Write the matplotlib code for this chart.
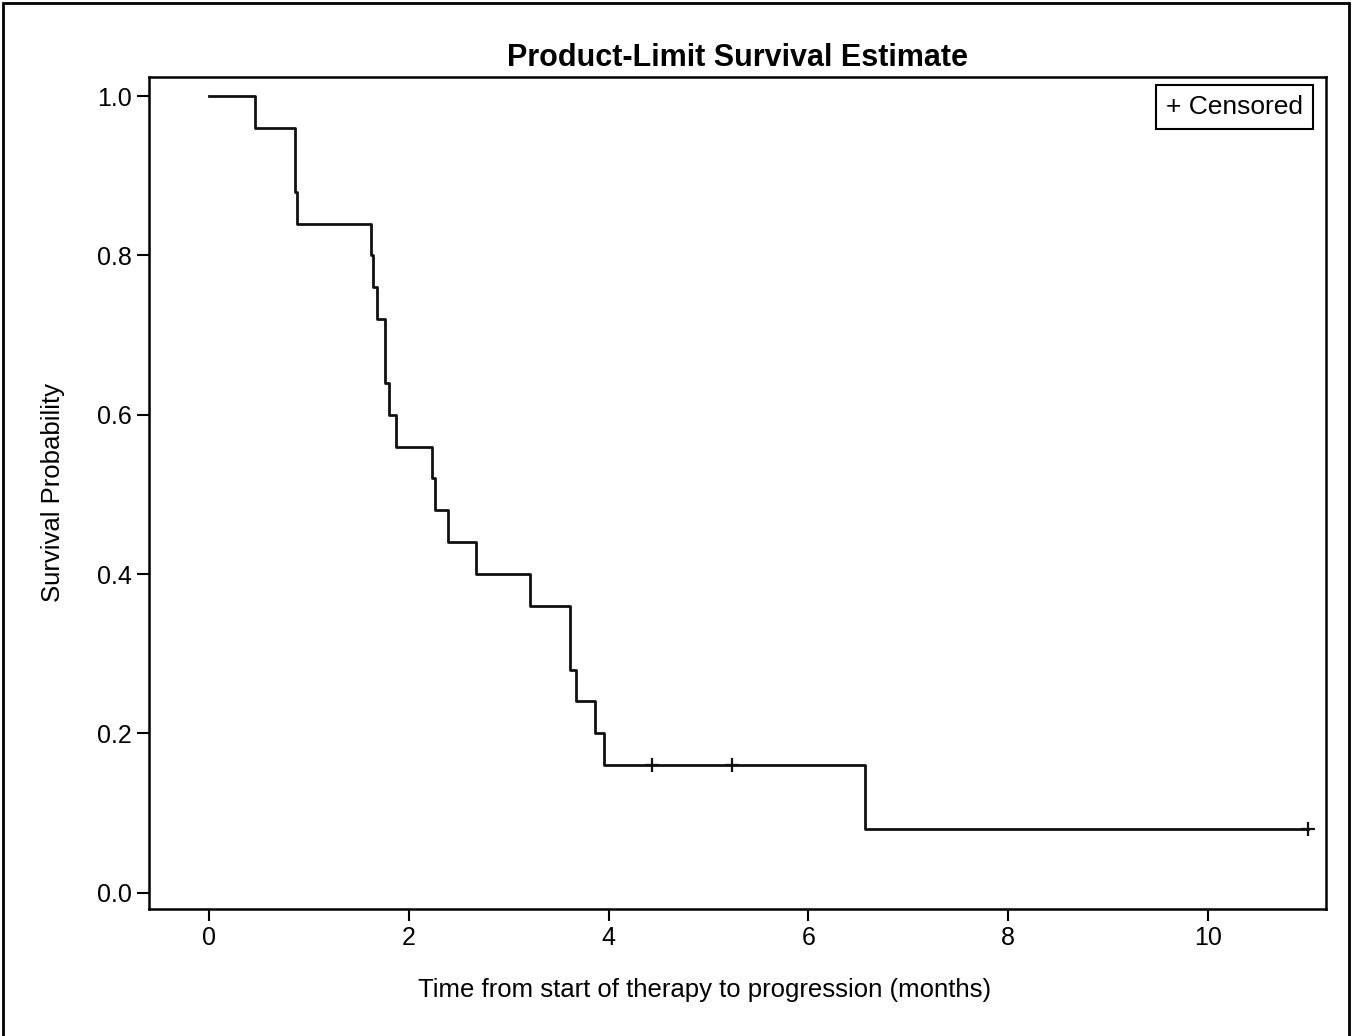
import matplotlib.pyplot as plt
from matplotlib.patches import Rectangle

plt.rcParams['font.family'] = ['Liberation Sans', 'DejaVu Sans']

# Kaplan-Meier steps (months, survival)
step_times = [0, 0.46, 0.86, 0.88, 1.62, 1.64, 1.68, 1.76, 1.80, 1.87,
              2.23, 2.26, 2.39, 2.67, 3.21, 3.61, 3.67, 3.86, 3.95, 6.57]
survival = [1.0, 0.96, 0.88, 0.84, 0.80, 0.76, 0.72, 0.64, 0.60, 0.56,
            0.52, 0.48, 0.44, 0.40, 0.36, 0.28, 0.24, 0.20, 0.16, 0.08]
end_time = 11.0
censor_times = [4.43, 5.23, 11.0]
censor_surv = [0.16, 0.16, 0.08]
x_ticks = [0, 2, 4, 6, 8, 10]
y_ticks = [0.0, 0.2, 0.4, 0.6, 0.8, 1.0]

fig = plt.figure(figsize=(13.57, 10.36), dpi=100)
ax = fig.add_axes([0.1098, 0.1226, 0.8674, 0.8031])

ax.step(step_times + [end_time], survival + [survival[-1]], where='post',
        color='#111111', lw=2.0)
ax.plot(censor_times, censor_surv, ls='none', marker='+', ms=10, mew=1.6,
        color='#111111')

ax.set_xlim(-0.60, 11.18)
ax.set_ylim(-0.0205, 1.024)
ax.set_xticks(x_ticks)
ax.set_yticks(y_ticks)
ax.set_yticklabels([f"{v:.1f}" for v in y_ticks])
ax.tick_params(labelsize=18, length=8.5, width=1.5, direction='out', pad=4)
for s in ax.spines.values():
    s.set_linewidth(1.8)

ax.set_title("Product-Limit Survival Estimate", fontsize=22, fontweight='bold', pad=8)
ax.set_xlabel("Time from start of therapy to progression (months)", fontsize=18.5, labelpad=20)
ax.xaxis.label.set_x(0.4724)
ax.set_ylabel("Survival Probability", fontsize=18.5, labelpad=23)

ax.text(0.9223, 0.964, "+ Censored", transform=ax.transAxes, ha='center', va='center',
        fontsize=19,
        bbox=dict(boxstyle='square,pad=0.38', fc='white', ec='black', lw=1.5))

fig.patches.append(Rectangle((0.002, -0.01), 0.992, 1.007, transform=fig.transFigure,
                             fill=False, ec='black', lw=2))

fig.savefig("out.png", dpi=100)
